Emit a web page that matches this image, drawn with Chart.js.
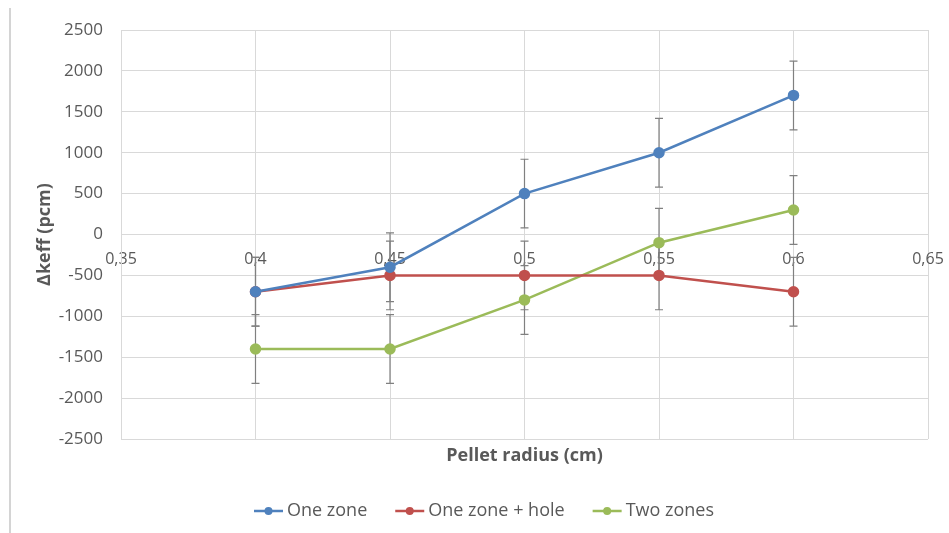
<!DOCTYPE html>
<html>
<head>
<meta charset="utf-8">
<script src="https://cdn.jsdelivr.net/npm/chart.js@4/dist/chart.umd.min.js"></script>
<style>
	html, body { margin: 0; padding: 0; background: #ffffff; }
	#wrap { position: relative; width: 949px; height: 533px; }
	#edge { position: absolute; left: 9px; top: 8px; width: 2px; height: 525px; background: #d4d4d4; }
</style>
</head>
<body>
<div id="wrap">
	<div id="edge"></div>
	<canvas id="myChart" width="949" height="533"></canvas>
</div>
<script>
// data
const radius = [0.4, 0.45, 0.5, 0.55, 0.6];
const oneZone = [-700, -400, 500, 1000, 1700];
const oneZoneHole = [-700, -500, -500, -500, -700];
const twoZones = [-1400, -1400, -800, -100, 300];
const errOneZone = [420, 420, 420, 420, 420];
const errOneZoneHole = [420, 420, 420, 420, 420];
const errTwoZones = [420, 420, 420, 420, 420];
const seriesNames = ['One zone', 'One zone + hole', 'Two zones'];
const yTicks = [-2500, -2000, -1500, -1000, -500, 0, 500, 1000, 1500, 2000, 2500];

const FONT = '"Open Sans", "DejaVu Sans", sans-serif';
const GREY = '#595959';

function toPoints(values) {
	return radius.map(function(r, i) {
		return { x: r, y: values[i] };
	});
}

// error bars, drawn behind the lines
const errorBars = {
	id: 'errorBars',
	beforeDatasetsDraw: function(chart) {
		const ctx = chart.ctx;
		const xs = chart.scales.x;
		const ys = chart.scales.y;
		ctx.save();
		ctx.strokeStyle = '#808080';
		ctx.lineWidth = 1.2;
		chart.data.datasets.forEach(function(ds) {
			ds.data.forEach(function(p, i) {
				const e = ds.errors[i];
				const px = xs.getPixelForValue(p.x);
				const top = ys.getPixelForValue(p.y + e);
				const bot = ys.getPixelForValue(p.y - e);
				ctx.beginPath();
				ctx.moveTo(px, top); ctx.lineTo(px, bot);
				ctx.moveTo(px - 4, top); ctx.lineTo(px + 4, top);
				ctx.moveTo(px - 4, bot); ctx.lineTo(px + 4, bot);
				ctx.stroke();
			});
		});
		ctx.restore();
	}
};

// excel style legend marker: short line with a dot, legend a bit to the right
const legendMarks = {
	id: 'legendMarks',
	afterUpdate: function(chart) {
		const legend = chart.legend;
		if (!legend || !legend.legendHitBoxes) return;
		legend.left += 20;
		legend.right += 20;
		legend.legendHitBoxes.forEach(function(hb) {
			hb.left += 20;
		});
	},
	afterDraw: function(chart) {
		const legend = chart.legend;
		if (!legend || !legend.legendHitBoxes) return;
		const ctx = chart.ctx;
		ctx.save();
		legend.legendHitBoxes.forEach(function(hb, i) {
			const ds = chart.data.datasets[i];
			const cy = hb.top + hb.height / 2;
			ctx.strokeStyle = ds.borderColor;
			ctx.lineWidth = 2.5;
			ctx.beginPath();
			ctx.moveTo(hb.left, cy);
			ctx.lineTo(hb.left + 29, cy);
			ctx.stroke();
			ctx.fillStyle = ds.borderColor;
			ctx.beginPath();
			ctx.arc(hb.left + 14.5, cy, 4, 0, Math.PI * 2);
			ctx.fill();
		});
		ctx.restore();
	}
};

document.addEventListener('DOMContentLoaded', function() {
	const colors = ['#4F81BD', '#C0504D', '#9BBB59'];
	const values = [oneZone, oneZoneHole, twoZones];
	const errors = [errOneZone, errOneZoneHole, errTwoZones];

	const datasets = seriesNames.map(function(name, k) {
		return {
			label: name,
			data: toPoints(values[k]),
			errors: errors[k],
			borderColor: colors[k],
			backgroundColor: colors[k],
			pointBackgroundColor: colors[k],
			pointBorderColor: colors[k],
			pointRadius: 4.5,
			borderWidth: 2.5,
			tension: 0,
			xAxisID: 'x',
			yAxisID: 'y'
		};
	});

	const ctx = document.getElementById('myChart');
	window.myChart = new Chart(ctx, {
		type: 'line',
		data: { datasets: datasets },
		plugins: [errorBars, legendMarks],
		options: {
			responsive: false,
			animation: false,
			layout: { padding: { left: 0, right: 21, top: 30, bottom: 3 } },
			scales: {
				x: {
					type: 'linear',
					position: 'bottom',
					min: 0.35,
					max: 0.65,
					ticks: { display: false },
					grid: { display: false },
					border: { display: false },
					title: {
						display: true,
						text: 'Pellet radius (cm)',
						color: GREY,
						font: { family: FONT, size: 18, weight: 'bold' },
						padding: { top: 0, bottom: 7 }
					},
					afterFit: function(scale) { scale.height = 35; }
				},
				x0: {
					type: 'linear',
					position: { y: 0 },
					min: 0.35,
					max: 0.65,
					ticks: {
						stepSize: 0.05,
						color: GREY,
						padding: 15,
						maxRotation: 0,
						font: { family: FONT, size: 16 },
						callback: function(v) {
							return String(Math.round(v * 100) / 100).replace('.', ',');
						}
					},
					grid: { color: '#d9d9d9', drawTicks: false },
					border: { display: false },
					afterFit: function(scale) {
						// labels at the ends may hang over, no extra room
						scale.paddingLeft = 0;
						scale.paddingRight = 0;
					}
				},
				y: {
					min: -2500,
					max: 2500,
					afterBuildTicks: function(scale) {
						scale.ticks = yTicks.map(function(v) { return { value: v }; });
					},
					ticks: {
						color: GREY,
						padding: 18,
						font: { family: FONT, size: 17 },
						callback: function(v) { return String(v); }
					},
					grid: { color: '#d9d9d9', drawTicks: false },
					border: { color: '#d9d9d9' },
					title: {
						display: true,
						text: 'Δkeff (pcm)',
						color: GREY,
						font: { family: FONT, size: 18, weight: 'bold' },
						padding: { top: 34, bottom: 0 }
					},
					afterFit: function(scale) {
						scale.width = 121;
						scale.paddingTop = 0;
						scale.paddingBottom = 0;
					}
				}
			},
			plugins: {
				legend: {
					position: 'bottom',
					labels: {
						color: GREY,
						boxWidth: 24,
						boxHeight: 2,
						padding: 28,
						font: { family: FONT, size: 18 },
						generateLabels: function(chart) {
							// hide the default box, the plugin draws the marker
							return Chart.defaults.plugins.legend.labels.generateLabels(chart).map(function(item) {
								item.fillStyle = 'rgba(0,0,0,0)';
								item.strokeStyle = 'rgba(0,0,0,0)';
								item.lineWidth = 0;
								return item;
							});
						}
					}
				},
				tooltip: { enabled: false }
			}
		}
	});
});
</script>
</body>
</html>
